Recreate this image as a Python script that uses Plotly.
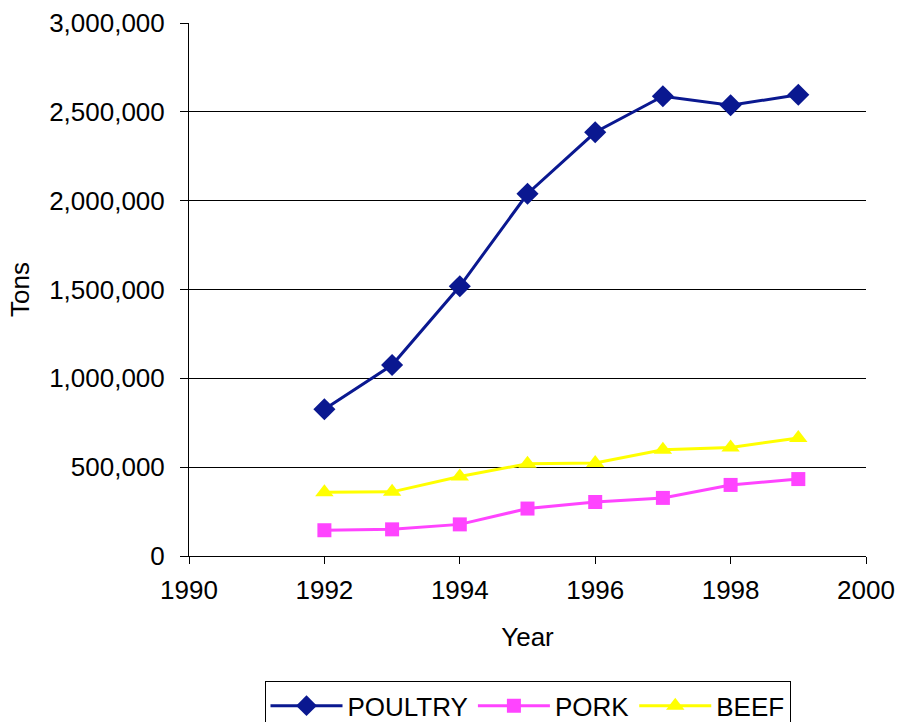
import plotly.graph_objects as go

years = [1992, 1993, 1994, 1995, 1996, 1997, 1998, 1999]
poultry = [826000, 1075000, 1518000, 2039000, 2385000, 2588000, 2537000, 2596000]
pork = [145000, 150000, 178000, 267000, 304000, 327000, 400000, 433000]
beef = [359000, 361000, 447000, 519000, 523000, 598000, 611000, 664000]

y_ticks = [0, 500000, 1000000, 1500000, 2000000, 2500000, 3000000]
grid_vals = [500000, 1000000, 1500000, 2000000, 2500000]
x_ticks = [1990, 1992, 1994, 1996, 1998, 2000]

FONT = "Liberation Sans, Arial, sans-serif"

fig = go.Figure()
# invisible trace to activate yaxis2 grid
fig.add_trace(go.Scatter(x=[1990], y=[0], yaxis="y2", mode="markers",
                         marker=dict(opacity=0), showlegend=False, hoverinfo="skip"))
fig.add_trace(go.Scatter(x=years, y=poultry, name="POULTRY", mode="lines+markers",
                         line=dict(color="#0a1890", width=3),
                         marker=dict(symbol="diamond", size=17, color="#0a1890")))
fig.add_trace(go.Scatter(x=years, y=pork, name="PORK", mode="lines+markers",
                         line=dict(color="#ff44ff", width=3),
                         marker=dict(symbol="square", size=14, color="#ff44ff")))
fig.add_trace(go.Scatter(x=years, y=beef, name="BEEF", mode="lines+markers",
                         line=dict(color="#ffff00", width=3),
                         marker=dict(symbol="triangle-up", size=16, color="#ffff00")))

fig.update_layout(
    width=900, height=722,
    margin=dict(l=189, r=34, t=23, b=166, autoexpand=False),
    paper_bgcolor="white", plot_bgcolor="white",
    font=dict(family=FONT, size=26, color="black"),
    showlegend=True,
    legend=dict(orientation="h", x=0.5, xanchor="center", y=-0.235, yanchor="top",
                bordercolor="black", borderwidth=1, font=dict(size=26),
                itemwidth=72, tracegroupgap=0),
    xaxis=dict(range=[1990, 2000], tickvals=x_ticks, showgrid=False, zeroline=False,
               showline=True, linecolor="black", linewidth=1, automargin=False,
               ticks="outside", ticklen=7, tickcolor="black",
               ticklabelstandoff=4,
               tickfont=dict(size=26),
               title=dict(text="Year", font=dict(size=26), standoff=23)),
    yaxis=dict(range=[0, 3000000], tickvals=y_ticks, tickformat=",d",
               showgrid=False, zeroline=False, automargin=False,
               showline=True, linecolor="black", linewidth=1,
               ticks="outside", ticklen=8, tickcolor="black",
               ticklabelstandoff=10,
               tickfont=dict(size=26),
               title=dict(text="Tons", font=dict(size=26), standoff=12)),
    yaxis2=dict(range=[0, 3000000], overlaying="y", side="left", tickvals=grid_vals,
                showticklabels=False, showgrid=True, gridcolor="black", gridwidth=1,
                zeroline=False, showline=False, ticks="", automargin=False),
)

fig.write_html("out.html")
